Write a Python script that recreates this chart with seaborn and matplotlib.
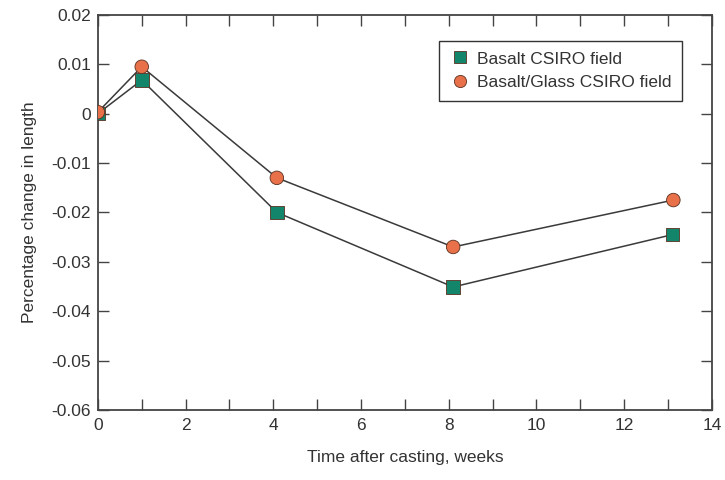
import pandas as pd
import numpy as np
import matplotlib

matplotlib.use('Agg')
import matplotlib.pyplot as plt
import seaborn as sns
from matplotlib.ticker import MultipleLocator, FuncFormatter

sns.set_style("ticks")
plt.rcParams['font.family'] = ['Liberation Sans', 'DejaVu Sans']

# data
weeks_basalt = [0, 1, 4.08, 8.1, 13.1]
basalt = [0.0, 0.0068, -0.0200, -0.0351, -0.0245]
weeks_glass = [0, 1, 4.08, 8.1, 13.12]
glass = [0.0003, 0.0095, -0.0130, -0.0270, -0.0175]
series_names = ["Basalt CSIRO field", "Basalt/Glass CSIRO field"]

df = pd.concat([
    pd.DataFrame({"week": weeks_basalt, "change": basalt, "mix": series_names[0]}),
    pd.DataFrame({"week": weeks_glass, "change": glass, "mix": series_names[1]}),
])

fig = plt.figure(figsize=(7.25, 4.8), dpi=100)
ax = fig.add_axes([0.135, 0.146, 0.847, 0.823])

# thin dark connecting lines
for name in series_names:
    sub = df[df["mix"] == name]
    sns.lineplot(data=sub, x="week", y="change", color="#3a3a3a", lw=1.1,
                 ax=ax, legend=False, sort=False, estimator=None)

sns.scatterplot(data=df, x="week", y="change", hue="mix", style="mix",
                palette={series_names[0]: "#13856a", series_names[1]: "#e8714a"},
                markers={series_names[0]: "s", series_names[1]: "o"},
                s=95, edgecolor="#5a3020", linewidth=0.6, ax=ax, zorder=3)

fs = 12.5
ax.set_xlim(0, 14)
ax.set_ylim(-0.06, 0.02)
ax.xaxis.set_major_locator(MultipleLocator(2))
ax.xaxis.set_minor_locator(MultipleLocator(1))
ax.yaxis.set_major_locator(MultipleLocator(0.01))
ax.yaxis.set_major_formatter(FuncFormatter(lambda v, p: "0" if abs(v) < 1e-9 else f"{v:.2f}"))
ax.tick_params(which="both", direction="in", top=True, right=True, color="#444444",
               labelsize=fs, labelcolor="#333333")
ax.tick_params(which="both", length=8, width=1)
ax.tick_params(axis="x", pad=6)
ax.tick_params(axis="y", pad=5)
for sp in ax.spines.values():
    sp.set_color("#444444")
    sp.set_linewidth(1.3)

ax.set_xlabel("Time after casting, weeks", fontsize=fs, color="#333333", labelpad=12)
ax.set_ylabel("Percentage change in length", fontsize=fs, color="#333333", labelpad=10)

leg = ax.legend(loc="upper right", bbox_to_anchor=(0.951, 0.934), fontsize=fs,
                frameon=True, fancybox=False, edgecolor="#333333", framealpha=1,
                handletextpad=0.4, handlelength=1.2, borderpad=0.6, labelspacing=0.5,
                markerscale=0.9, borderaxespad=0)
leg.get_frame().set_linewidth(1.0)
for t in leg.get_texts():
    t.set_color("#333333")

fig.savefig("out.png", dpi=100)
